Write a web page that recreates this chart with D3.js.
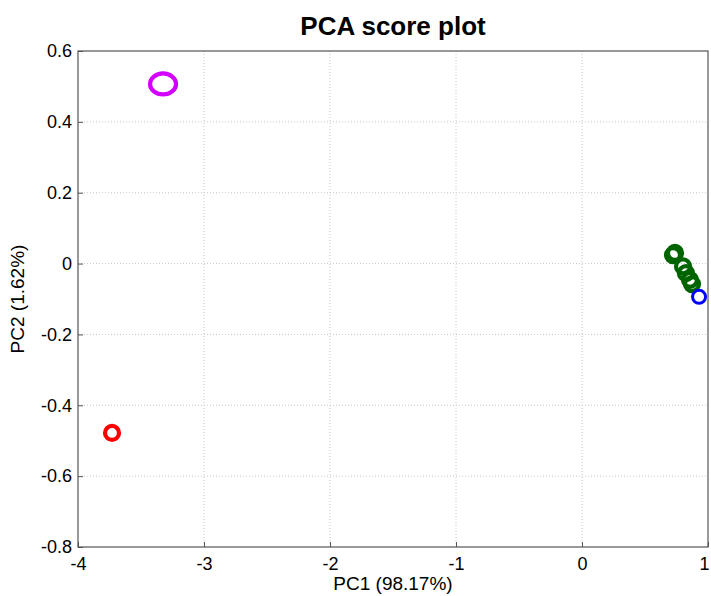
<!DOCTYPE html>
<html lang="en">
<head>
<meta charset="UTF-8">
<title>PCA score plot</title>
<script src="https://cdn.jsdelivr.net/npm/d3@7"></script>
<style>
  body { margin: 0; background: #fff; font-family: "Liberation Sans", Arial, sans-serif; }
  .grid line { stroke: #c8c8c8; stroke-dasharray: 1,2; }
  .tick text { font-size: 18px; fill: #000; }
</style>
</head>
<body>
<div id="fig"></div>
<script>
// scores
const groups = ["red", "magenta", "green", "green", "green", "green", "green", "green", "blue"]
const pc1 = [-3.73, -3.325, 0.738, 0.722, 0.802, 0.825, 0.857, 0.873, 0.929]
const pc2 = [-0.478, 0.507, 0.030, 0.024, -0.008, -0.027, -0.046, -0.058, -0.094]
const xTicks = [-4, -3, -2, -1, 0, 1]
const yTicks = [0.6, 0.4, 0.2, 0, -0.2, -0.4, -0.6, -0.8]

const colors = { red: "#ff0000", magenta: "#d400ff", green: "#006400", blue: "#0000ff" }

const W = 711, H = 596
const plot = { left: 78, right: 708, top: 51, bottom: 547 }

let svg = d3.select("#fig").append("svg")
    .attr("width", W).attr("height", H)

const x = d3.scaleLinear().domain([-4, 1]).range([plot.left, plot.right])
const y = d3.scaleLinear().domain([-0.8, 0.6]).range([plot.bottom, plot.top])

// matlab style labels use a plain hyphen
const fmtX = d => String(d)
const fmtY = d => d === 0 ? "0" : d.toFixed(1)

// grid
let grid = svg.append("g").attr("class", "grid")
grid.selectAll(".gx").data(xTicks.slice(1, -1)).enter().append("line")
    .attr("x1", d => x(d)).attr("x2", d => x(d))
    .attr("y1", plot.top).attr("y2", plot.bottom)
grid.selectAll(".gy").data(yTicks.slice(1, -1)).enter().append("line")
    .attr("y1", d => y(d)).attr("y2", d => y(d))
    .attr("x1", plot.left).attr("x2", plot.right)

// axes, ticks pointing inward
svg.append("g")
    .attr("transform", `translate(0,${plot.bottom})`)
    .call(d3.axisBottom(x).tickValues(xTicks).tickSize(-5).tickPadding(10).tickFormat(fmtX))
    .call(g => g.select(".domain").remove())
    .call(g => g.selectAll(".tick line").attr("stroke", "#555"))
    .call(g => g.selectAll(".tick text").attr("dy", "0.72em"))
    // last label sits on the window edge, nudge it in
    .call(g => g.selectAll(".tick text").filter(d => d === 1).attr("dx", -4))
svg.append("g")
    .attr("transform", `translate(${plot.left},0)`)
    .call(d3.axisLeft(y).tickValues(yTicks).tickSize(-5).tickPadding(6).tickFormat(fmtY))
    .call(g => g.select(".domain").remove())
    .call(g => g.selectAll(".tick line").attr("stroke", "#555"))

svg.append("rect")
    .attr("x", plot.left).attr("y", plot.top)
    .attr("width", plot.right - plot.left).attr("height", plot.bottom - plot.top)
    .attr("fill", "none").attr("stroke", "#555").attr("stroke-width", 1.2)

// points
const data = pc1.map((d, i) => ({ x: d, y: pc2[i], g: groups[i] }))
svg.selectAll(".pt").data(data).enter().append("ellipse")
    .attr("class", "pt")
    .attr("cx", d => x(d.x)).attr("cy", d => y(d.y))
    .attr("rx", d => d.g === "magenta" ? 13 : d.g === "blue" ? 6.5 : 7)
    .attr("ry", d => d.g === "magenta" ? 10.5 : d.g === "blue" ? 6.5 : 7)
    .attr("fill", "none")
    .attr("stroke", d => colors[d.g])
    .attr("stroke-width", d => d.g === "blue" ? 3 : 4.2)

// titles
svg.append("text")
    .attr("x", 393).attr("y", 35)
    .attr("text-anchor", "middle")
    .style("font-size", "26px").style("font-weight", "bold")
    .text("PCA score plot")
svg.append("text")
    .attr("x", 393).attr("y", 590)
    .attr("text-anchor", "middle")
    .style("font-size", "19px")
    .text("PC1 (98.17%)")
svg.append("text")
    .attr("transform", `translate(24,${(plot.top + plot.bottom) / 2}) rotate(-90)`)
    .attr("text-anchor", "middle")
    .style("font-size", "19px")
    .text("PC2 (1.62%)")
</script>
</body>
</html>
